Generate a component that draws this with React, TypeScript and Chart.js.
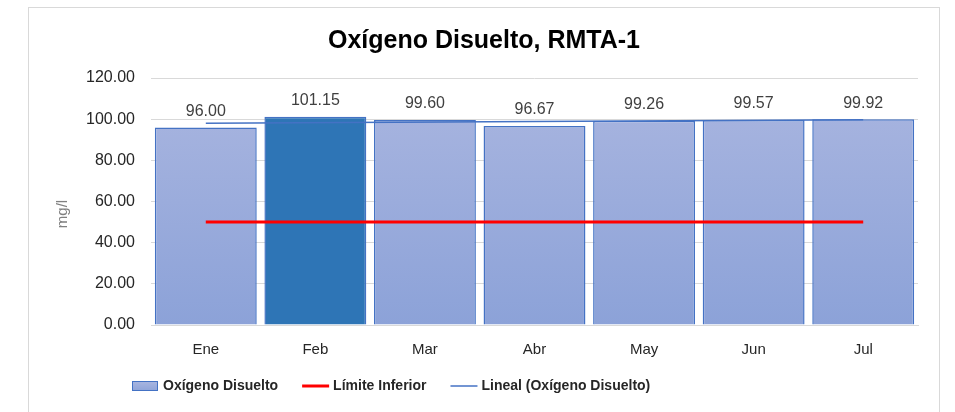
import React, { useEffect, useRef } from "react";
import { Chart, registerables } from "chart.js";

Chart.register(...registerables);

const categories = ["Ene", "Feb", "Mar", "Abr", "May", "Jun", "Jul"];
const oxigenoDisuelto = [96.0, 101.15, 99.6, 96.67, 99.26, 99.57, 99.92];
const limiteInferior = [50, 50, 50, 50, 50, 50, 50];
const linealTrend = [98.0, null, null, null, null, null, 99.77];
const yTicks = [0, 20, 40, 60, 80, 100, 120];
const highlightIndex = 1;

const titleText = "Oxígeno Disuelto, RMTA-1";
const yTitle = "mg/l";
const legendItems = [
  { label: "Oxígeno Disuelto", kind: "box" },
  { label: "Límite Inferior", kind: "red" },
  { label: "Lineal (Oxígeno Disuelto)", kind: "blue" },
];

const FONT = "'Liberation Sans', sans-serif";

export default function App() {
  const ref = useRef<HTMLCanvasElement>(null);

  useEffect(() => {
    const canvas = ref.current!;
    const ctx = canvas.getContext("2d")!;

    const overlay = {
      id: "overlay",
      afterDatasetsDraw(chart: any) {
        const c = chart.ctx;
        const meta = chart.getDatasetMeta(2);
        c.save();
        c.fillStyle = "#404040";
        c.font = `16px ${FONT}`;
        c.textAlign = "center";
        c.textBaseline = "bottom";
        meta.data.forEach((bar: any, i: number) => {
          c.fillText(oxigenoDisuelto[i].toFixed(2), bar.x, bar.y - 8);
        });
        c.restore();
      },
      afterDraw(chart: any) {
        const c = chart.ctx;
        c.save();
        // title
        c.fillStyle = "#000000";
        c.font = `bold 25px ${FONT}`;
        c.textAlign = "center";
        c.textBaseline = "middle";
        c.fillText(titleText, 484, 41);
        // y title
        c.save();
        c.translate(63, 214);
        c.rotate(-Math.PI / 2);
        c.fillStyle = "#808080";
        c.font = `15px ${FONT}`;
        c.fillText(yTitle, 0, 0);
        c.restore();
        // legend
        const ly = 386;
        let x = 132;
        c.font = `bold 14px ${FONT}`;
        c.textAlign = "left";
        c.textBaseline = "middle";
        legendItems.forEach((it) => {
          if (it.kind === "box") {
            const g = c.createLinearGradient(0, ly - 5, 0, ly + 5);
            g.addColorStop(0, "#AAB6E0");
            g.addColorStop(1, "#8EA4D9");
            c.fillStyle = g;
            c.fillRect(x, ly - 5, 26, 10);
            c.strokeStyle = "#4472C4";
            c.lineWidth = 1;
            c.strokeRect(x + 0.5, ly - 4.5, 25, 9);
          } else {
            c.strokeStyle = it.kind === "red" ? "#FF0000" : "#4472C4";
            c.lineWidth = it.kind === "red" ? 3 : 1.5;
            c.beginPath();
            c.moveTo(x, ly);
            c.lineTo(x + 27, ly);
            c.stroke();
          }
          c.fillStyle = "#262626";
          c.fillText(it.label, x + 31, ly);
          x += 31 + c.measureText(it.label).width + 24;
        });
        c.restore();
      },
    };

    const gradient = ctx.createLinearGradient(0, 78, 0, 325);
    gradient.addColorStop(0, "#AAB6E0");
    gradient.addColorStop(1, "#8CA2D8");

    const chart = new Chart(ctx, {
      type: "bar",
      data: {
        labels: categories,
        datasets: [
          {
            type: "line",
            label: "Lineal (Oxígeno Disuelto)",
            data: linealTrend as any,
            borderColor: "#4472C4",
            borderWidth: 1.5,
            pointRadius: 0,
            spanGaps: true,
            order: 1,
          },
          {
            type: "line",
            label: "Límite Inferior",
            data: limiteInferior,
            borderColor: "#FF0000",
            borderWidth: 3,
            pointRadius: 0,
            order: 2,
          },
          {
            type: "bar",
            label: "Oxígeno Disuelto",
            data: oxigenoDisuelto,
            backgroundColor: oxigenoDisuelto.map((_, i) => (i === highlightIndex ? "#2E75B6" : gradient)),
            borderColor: "#4472C4",
            borderWidth: 1.5,
            categoryPercentage: 1,
            barPercentage: 0.93,
            order: 3,
          },
        ],
      },
      options: {
        animation: false,
        responsive: false,
        maintainAspectRatio: false,
        layout: { padding: { top: 78, right: 37, bottom: 0, left: 0 } },
        plugins: {
          legend: { display: false },
          title: { display: false },
          tooltip: { enabled: false },
        },
        scales: {
          x: {
            grid: { display: false, drawTicks: false },
            border: { display: true, color: "#D9D9D9", width: 1 },
            ticks: { color: "#262626", font: { family: FONT, size: 15 }, padding: 16 },
            afterFit: (s: any) => {
              s.height = 87;
            },
          },
          y: {
            min: 0,
            max: 120,
            afterBuildTicks: (s: any) => {
              s.ticks = yTicks.map((v) => ({ value: v }));
            },
            grid: { color: "#D9D9D9", drawTicks: false },
            border: { display: false },
            ticks: {
              color: "#262626",
              font: { family: FONT, size: 16 },
              padding: 16,
              callback: (v: any) => Number(v).toFixed(2),
            },
            afterFit: (s: any) => {
              s.width = 151;
            },
          },
        },
      },
      plugins: [overlay],
    });
    return () => chart.destroy();
  }, []);

  return (
    <div style={{ position: "fixed", left: 0, top: 0, width: 955, height: 412, background: "#fff", overflow: "hidden" }}>
      <div
        style={{
          position: "absolute",
          left: 28,
          top: 7,
          width: 912,
          height: 430,
          border: "1px solid #D9D9D9",
          boxSizing: "border-box",
        }}
      />
      <canvas ref={ref} width={955} height={412} style={{ position: "absolute", left: 0, top: 0 }} />
    </div>
  );
}
